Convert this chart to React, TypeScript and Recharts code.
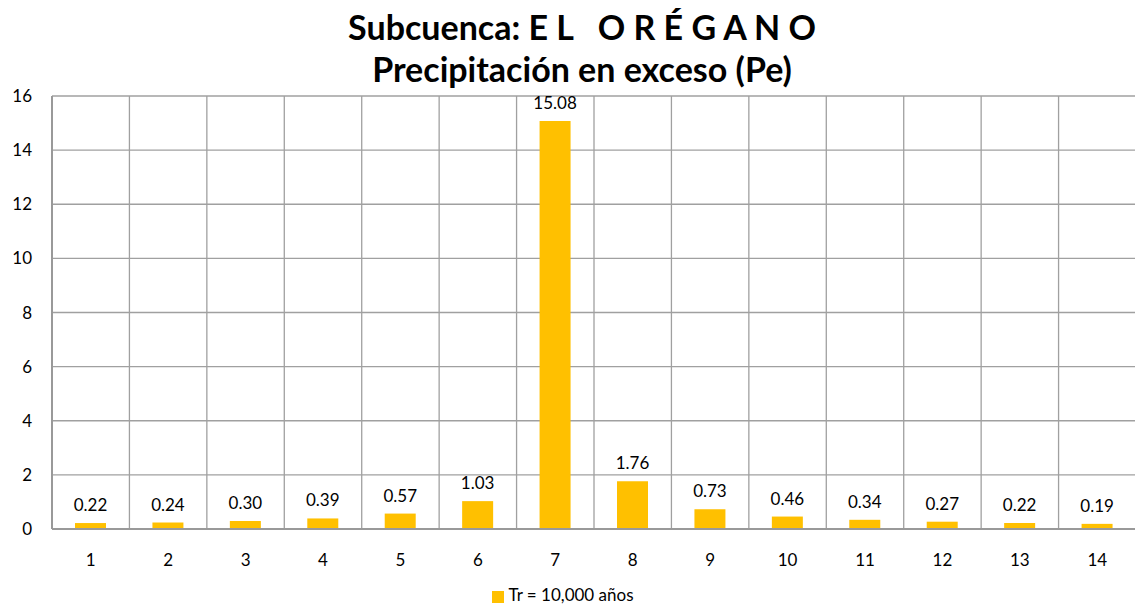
import { BarChart, Bar, XAxis, YAxis, CartesianGrid, Legend, LabelList } from "recharts";

const intervals = ["1", "2", "3", "4", "5", "6", "7", "8", "9", "10", "11", "12", "13", "14"];
const pe = [0.22, 0.24, 0.3, 0.39, 0.57, 1.03, 15.08, 1.76, 0.73, 0.46, 0.34, 0.27, 0.22, 0.19];
const yTicks = [0, 2, 4, 6, 8, 10, 12, 14, 16];
const seriesName = "Tr = 10,000 años";

const data = intervals.map((name, i) => ({ name, pe: pe[i] }));

const font = "Lato, 'Open Sans', sans-serif";

export default function App() {
  return (
    <div style={{ position: "absolute", left: 0, top: 0, width: 1135, height: 606, overflow: "hidden", background: "#fff", fontFamily: font }}>
      <div style={{ position: "absolute", left: 0, width: 1164, top: 6, textAlign: "center", fontWeight: 700, fontSize: 34, lineHeight: "42px", color: "#000" }}>
        <div>Subcuenca: E L &nbsp; O R É G A N O</div>
        <div>Precipitación en exceso (Pe)</div>
      </div>
      <BarChart
        width={1140}
        height={606}
        data={data}
        margin={{ top: 96, right: 4, bottom: 0, left: 0 }}
      >
        <CartesianGrid
          stroke="#a0a0a0"
          strokeWidth={1.3}
          verticalCoordinatesGenerator={({ offset }: any) =>
            intervals.map((_, i) => offset.left + (i * offset.width) / intervals.length).concat(offset.left + offset.width)
          }
        />
        <XAxis
          dataKey="name"
          height={50}
          tickLine={false}
          axisLine={{ stroke: "#999", strokeWidth: 2 }}
          tickMargin={19}
          tick={{ fill: "#000", fontSize: 17, fontFamily: font }}
        />
        <YAxis
          width={52}
          domain={[0, 16]}
          ticks={yTicks}
          tickLine={false}
          axisLine={{ stroke: "#999", strokeWidth: 2 }}
          tickMargin={14}
          tick={{ fill: "#000", fontSize: 17, fontFamily: font }}
        />
        <Legend
          verticalAlign="bottom"
          height={27}
          iconType="square"
          iconSize={12}
          wrapperStyle={{ fontSize: 17, fontFamily: font, color: "#000", paddingLeft: 0, bottom: -5 }}
          formatter={(v: string) => <span style={{ color: "#000" }}>{v}</span>}
        />
        <Bar dataKey="pe" name={seriesName} fill="#FFC000" barSize={31} isAnimationActive={false}>
          <LabelList
            dataKey="pe"
            position="top"
            offset={12}
            formatter={(v: any) => Number(v).toFixed(2)}
            style={{ fill: "#000", fontSize: 17, fontFamily: font }}
          />
        </Bar>
      </BarChart>
    </div>
  );
}
